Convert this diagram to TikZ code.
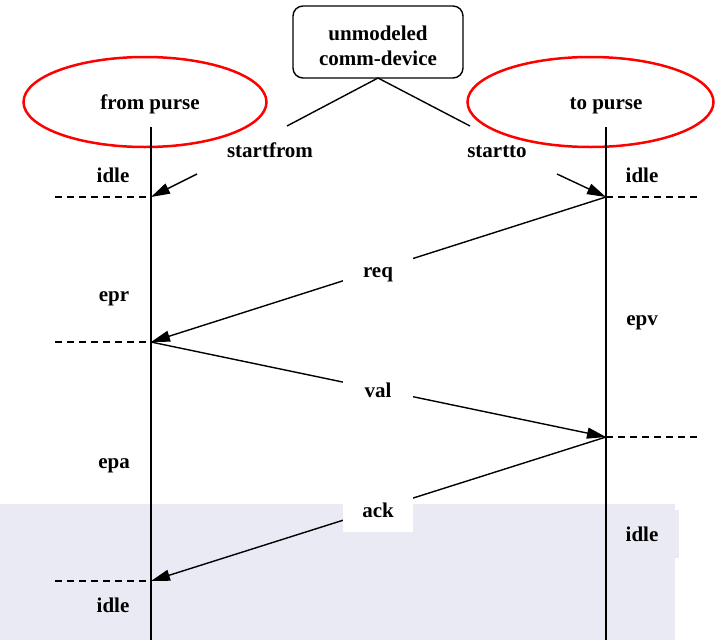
\documentclass[tikz,border=0pt]{standalone}
\usepackage{fontspec}
\setmainfont{Liberation Serif}
\usetikzlibrary{arrows.meta,shapes.geometric}
\definecolor{bgshade}{HTML}{EAEAF4}
\begin{document}
\begin{tikzpicture}[x=1pt,y=-1pt,
  font=\fontsize{21}{25}\selectfont\bfseries,
  line/.style={line width=1.4pt},
  msg/.style={line width=1.4pt,-{Triangle[length=19pt,width=11pt]}},
  dashline/.style={line width=1.2pt,dash pattern=on 7pt off 5pt},
  txt/.style={anchor=base,inner sep=0pt},
  wlbl/.style={fill=white,inner sep=0pt,minimum width=70pt,minimum height=40pt,text height=14pt,text depth=4pt},
  oval/.style={draw=red,ellipse,line width=2.5pt,inner sep=0pt}
]
\useasboundingbox (0,0) rectangle (717,640);
% shaded area
\fill[bgshade] (0,504) rectangle (675,640);
\fill[bgshade] (675,510) rectangle (679,558);

% device box
\node[draw,line width=1.4pt,rounded corners=10pt,minimum width=170pt,minimum height=72pt] (dev) at (378,42) {};
\node[txt] (devA) at (378,40) {unmodeled};
\node[txt] (devB) at (378,65) {comm-device};

% ellipses
\node[oval,minimum width=243pt,minimum height=90pt] (fp) at (145,102) {};
\node[oval,minimum width=246pt,minimum height=90pt] (tp) at (590.5,102) {};
\node[txt] (fpt) at (150,109) {from purse};
\node[txt] (tpt) at (606,109) {to purse};

% coordinates
\coordinate (L0) at (151,127);
\coordinate (L1) at (151,197);
\coordinate (L2) at (151,342);
\coordinate (L3) at (151,581);
\coordinate (Le) at (151,640);
\coordinate (R0) at (606,127);
\coordinate (R1) at (606,197);
\coordinate (R2) at (606,437);
\coordinate (Re) at (606,640);
\coordinate (db) at (378,78);
\coordinate (sf) at (287,126);
\coordinate (st) at (470,126);
\coordinate (sfa) at (197,174);
\coordinate (sta) at (557,174);
\coordinate (dl1) at (55,197);
\coordinate (dl2) at (55,342);
\coordinate (dl3) at (55,581);
\coordinate (dr1) at (697,197);
\coordinate (dr2) at (697,437);

% lifelines
\draw[line] (L0) -- (Le);
\draw[line] (R0) -- (Re);

% device lines
\draw[line] (db) -- (sf);
\draw[line] (db) -- (st);

% start arrows
\draw[msg] (sfa) -- (L1);
\draw[msg] (sta) -- (R1);

% dashed state separators
\draw[dashline] (dl1) -- (L1);
\draw[dashline] (dl2) -- (L2);
\draw[dashline] (dl3) -- (L3);
\draw[dashline] (R1) -- (dr1);
\draw[dashline] (R2) -- (dr2);

% messages
\draw[msg] (R1) -- (L2);
\draw[msg] (L2) -- (R2);
\draw[msg] (R2) -- (L3);
\node[wlbl] (req) at (378,272) {req};
\node[wlbl] (val) at (378,392) {val};
\node[wlbl] (ack) at (378,512) {ack};

% labels
\node[txt] (sft) at (270,157) {startfrom};
\node[txt] (stt) at (497,157) {startto};
\node[txt] (i1) at (113,182) {idle};
\node[txt] (i2) at (642,182) {idle};
\node[txt] (epr) at (114,301) {epr};
\node[txt] (epv) at (642,325) {epv};
\node[txt] (epa) at (114,468) {epa};
\node[txt] (i3) at (642,541) {idle};
\node[txt] (i4) at (113,612) {idle};
\end{tikzpicture}
\end{document}
